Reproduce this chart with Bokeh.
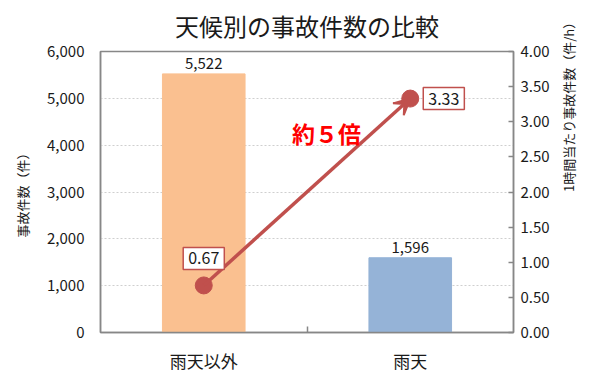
import math
from bokeh.plotting import figure
from bokeh.models import (Range1d, LinearAxis, FixedTicker, NumeralTickFormatter, Label,
                          LabelSet, Arrow, VeeHead, ColumnDataSource)
from bokeh.core.properties import value
from bokeh.embed import file_html
from bokeh.resources import INLINE

# ---- data ----
categories = ["雨天以外", "雨天"]
accidents = [5522, 1596]
accident_labels = ["5,522", "1,596"]
rates = [0.67, 3.33]
rate_labels = ["0.67", "3.33"]
bar_colors = ["#FAC090", "#95B3D7"]
left_ticks = [0, 1000, 2000, 3000, 4000, 5000, 6000]
right_ticks = [0, 0.5, 1.0, 1.5, 2.0, 2.5, 3.0, 3.5, 4.0]
title_text = "天候別の事故件数の比較"
left_title = "事故件数（件）"
right_title = "1時間当たり事故件数（件/h）"
ratio_text = "約５倍"

FONT = "Noto Sans CJK JP"
AXIS_COLOR = "#878787"
RED = "#C0504D"
TXT = "#1a1a1a"

xs = [i + 0.5 for i in range(len(categories))]

p = figure(width=600, height=375, x_range=Range1d(0, len(categories)),
           y_range=Range1d(left_ticks[0], left_ticks[-1]), title=None,
           output_backend="svg", toolbar_location=None,
           min_border_left=100, min_border_right=87, min_border_top=51, min_border_bottom=43)
p.extra_y_ranges = {"rate": Range1d(right_ticks[0], right_ticks[-1])}

p.background_fill_color = "white"
p.border_fill_color = "white"
p.outline_line_color = AXIS_COLOR
p.outline_line_width = 1.5


def text_only_axis(axis, text, size, standoff):
    """An axis that shows only its title text (no line, ticks or tick labels)."""
    axis.ticker = FixedTicker(ticks=[])
    axis.axis_line_color = None
    axis.major_tick_line_color = None
    axis.minor_tick_line_color = None
    axis.major_tick_in = 0
    axis.major_tick_out = 0
    axis.minor_tick_in = 0
    axis.minor_tick_out = 0
    axis.major_label_text_font_size = "0px"
    axis.axis_label = text
    axis.axis_label_text_font = FONT
    axis.axis_label_text_font_size = size
    axis.axis_label_text_font_style = "normal"
    axis.axis_label_text_color = TXT
    axis.axis_label_standoff = standoff
    return axis


# grid
p.xgrid.visible = False
p.ygrid.ticker = FixedTicker(ticks=left_ticks)
p.ygrid.grid_line_color = "#CFCFCF"
p.ygrid.grid_line_dash = "2 2"
p.ygrid.grid_line_width = 1

# bottom axis
xa = p.xaxis[0]
xa.ticker = FixedTicker(ticks=xs, minor_ticks=[1.0])
xa.major_label_overrides = {x: c for x, c in zip(xs, categories)}
xa.major_tick_line_color = None
xa.minor_tick_in = 6
xa.minor_tick_out = 0
xa.minor_tick_line_color = AXIS_COLOR
xa.minor_tick_line_width = 1.5
xa.axis_line_color = AXIS_COLOR
xa.axis_line_width = 1.5
xa.major_label_text_font = FONT
xa.major_label_text_font_size = "17px"
xa.major_label_text_color = TXT
xa.major_label_standoff = 9

# left axis
ya = p.yaxis[0]
ya.ticker = FixedTicker(ticks=left_ticks)
ya.formatter = NumeralTickFormatter(format="0,0")
ya.major_tick_line_color = None
ya.minor_tick_line_color = None
ya.axis_line_color = AXIS_COLOR
ya.axis_line_width = 1.5
ya.major_label_text_font = FONT
ya.major_label_text_font_size = "15px"
ya.major_label_text_color = TXT
ya.major_label_standoff = 10

# right axis
ra = LinearAxis(y_range_name="rate", ticker=FixedTicker(ticks=right_ticks),
                formatter=NumeralTickFormatter(format="0.00"))
ra.major_tick_in = 5
ra.major_tick_out = 0
ra.major_tick_line_color = AXIS_COLOR
ra.major_tick_line_width = 1.5
ra.minor_tick_line_color = None
ra.axis_line_color = AXIS_COLOR
ra.axis_line_width = 1.5
ra.major_label_text_font = FONT
ra.major_label_text_font_size = "15px"
ra.major_label_text_color = TXT
ra.major_label_standoff = 7
p.add_layout(ra, "right")

# chart title and axis titles, carried by text-only axes
top_title = text_only_axis(LinearAxis(), title_text, "24px", 9)
p.add_layout(top_title, "above")
left_label = text_only_axis(LinearAxis(), left_title, "13px", 13)
p.add_layout(left_label, "left")
right_label = text_only_axis(LinearAxis(y_range_name="rate"), right_title, "13px", 16)
right_label.axis_label_orientation = math.pi / 2
p.add_layout(right_label, "right")

# bars
bar_src = ColumnDataSource(dict(x=xs, top=accidents, color=bar_colors, label=accident_labels))
p.vbar(x="x", top="top", width=0.4, color="color", source=bar_src)
p.add_layout(LabelSet(x="x", y="top", text="label", source=bar_src, y_offset=5,
                      text_align="center", text_baseline="bottom",
                      text_font=value(FONT), text_font_size="15px", text_color=TXT))

# rate line with arrow
p.add_layout(Arrow(end=VeeHead(size=16, fill_color=RED, line_color=RED, line_width=2),
                   x_start=xs[0], y_start=rates[0], x_end=xs[1], y_end=rates[1],
                   y_range_name="rate", line_color=RED, line_width=3.5))
p.scatter(xs, rates, y_range_name="rate", size=17, marker="circle",
          fill_color=RED, line_color=RED)

# rate labels
p.add_layout(Label(x=xs[0], y=rates[0], y_range_name="rate", text=rate_labels[0],
                   y_offset=16, text_align="center", text_baseline="bottom",
                   text_font=FONT, text_font_size="16px", text_color=TXT,
                   background_fill_color="white", border_line_color=RED,
                   border_line_width=1.5, padding=5))
p.add_layout(Label(x=xs[1], y=rates[1], y_range_name="rate", text=rate_labels[1],
                   x_offset=13, text_align="left", text_baseline="middle",
                   text_font=FONT, text_font_size="16px", text_color=TXT,
                   background_fill_color="white", border_line_color=RED,
                   border_line_width=1.5, padding=5))

# ratio annotation
p.add_layout(Label(x=1.094, y=4270, text=ratio_text, text_align="center",
                   text_baseline="middle", text_font=FONT, text_font_size="23px",
                   text_font_style="bold", text_color="#FF0000"))

open("out.html", "w").write(file_html(p, INLINE))
